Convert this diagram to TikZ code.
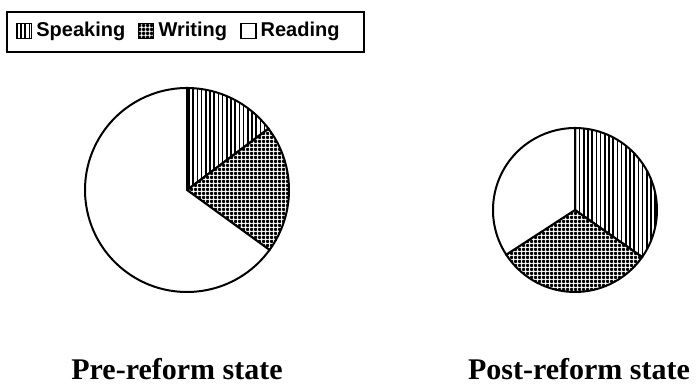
\documentclass[tikz,border=0pt]{standalone}
\usepackage{fontspec}
\setmainfont{Liberation Serif}
\setsansfont{Liberation Sans}
\usepackage{tikz}
\usetikzlibrary{positioning, patterns.meta}

\begin{document}
\begin{tikzpicture}[x=1pt,y=1pt,line width=2pt,
        speaking/.style={pattern={Lines[angle=90,distance=4.2pt,line width=1.7pt]}},
        writing/.style={pattern={Hatch[angle=0,distance=4pt,line width=2.3pt]}},
        reading/.style={fill=white},
        mark box/.style={draw,line width=1.6pt,minimum size=15pt,inner sep=0pt},
        legend text/.style={inner sep=0pt,font=\sffamily\bfseries\fontsize{20}{24}\selectfont},
        caption/.style={inner sep=0pt,font=\bfseries\fontsize{30}{36}\selectfont}]
        \useasboundingbox (0,0) rectangle (699,385);

        % legend
        \draw[line width=1.4pt] (7,333) rectangle (364,373);
        \node[mark box,speaking] (m_s) at (24,354) {};
        \node[legend text,right=3pt of m_s] (t_s) {Speaking};
        \node[mark box,writing,right=11pt of t_s] (m_w) {};
        \node[legend text,right=3pt of m_w] (t_w) {Writing};
        \node[mark box,reading,right=12pt of t_w] (m_r) {};
        \node[legend text,right=3pt of m_r] (t_r) {Reading};

        % pre-reform pie
        \coordinate (pre) at (187,195);
        \draw[speaking] (pre) -- ++(90:102) arc[start angle=90,end angle=37,radius=102] -- cycle;
        \draw[writing] (pre) -- ++(37:102) arc[start angle=37,end angle=-36,radius=102] -- cycle;
        \draw[reading] (pre) -- ++(-36:102) arc[start angle=-36,end angle=-270,radius=102] -- cycle;

        % post-reform pie
        \coordinate (post) at (575,175);
        \draw[speaking] (post) -- ++(90:82) arc[start angle=90,end angle=-35,radius=82] -- cycle;
        \draw[writing] (post) -- ++(-35:82) arc[start angle=-35,end angle=-147,radius=82] -- cycle;
        \draw[reading] (post) -- ++(-147:82) arc[start angle=-147,end angle=-270,radius=82] -- cycle;

        \node[caption,anchor=base] (cap_pre) at (177,5) {Pre-reform state};
        \node[caption,anchor=base] (cap_post) at (579,5) {Post-reform state};
    \end{tikzpicture}
\end{document}
